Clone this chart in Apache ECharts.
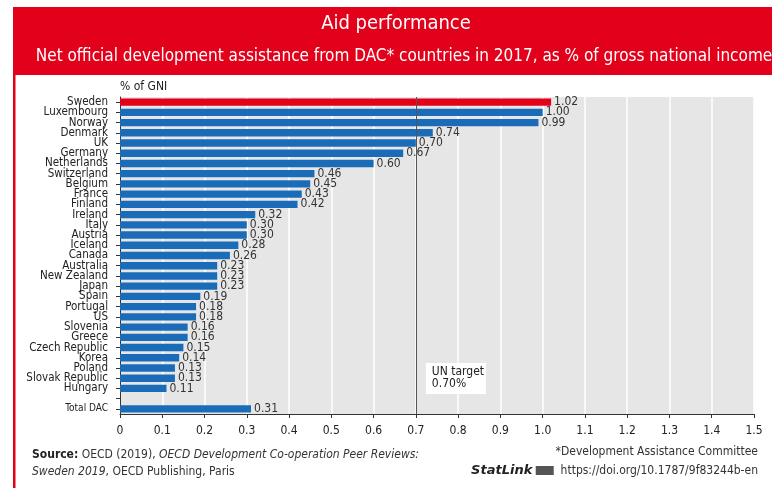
<!DOCTYPE html>
<html>
<head>
<meta charset="utf-8">
<script src="https://cdn.jsdelivr.net/npm/echarts@6/dist/echarts.min.js"></script>
<style>
  html, body { margin: 0; padding: 0; background: #fff; }
  #chart { width: 782px; height: 488px; }
</style>
</head>
<body>
<div id="chart"></div>
<script>
// data
const countries = ['Sweden', 'Luxembourg', 'Norway', 'Denmark', 'UK', 'Germany', 'Netherlands',
  'Switzerland', 'Belgium', 'France', 'Finland', 'Ireland', 'Italy', 'Austria', 'Iceland', 'Canada',
  'Australia', 'New Zealand', 'Japan', 'Spain', 'Portugal', 'US', 'Slovenia', 'Greece',
  'Czech Republic', 'Korea', 'Poland', 'Slovak Republic', 'Hungary', '', 'Total DAC']
const oda = [1.02, 1.00, 0.99, 0.74, 0.70, 0.67, 0.60,
  0.46, 0.45, 0.43, 0.42, 0.32, 0.30, 0.30, 0.28, 0.26,
  0.23, 0.23, 0.23, 0.19, 0.18, 0.18, 0.16, 0.16,
  0.15, 0.14, 0.13, 0.13, 0.11, null, 0.31]
const xTicks = [0, 0.1, 0.2, 0.3, 0.4, 0.5, 0.6, 0.7, 0.8, 0.9, 1.0, 1.1, 1.2, 1.3, 1.4, 1.5]
const unTarget = 0.7

const FONT = '"DejaVu Sans Condensed", "Liberation Sans Narrow", sans-serif'
const RED = '#e2001a'
const BLUE = '#1b6cb8'

const chart = echarts.init(document.getElementById('chart'))

const option = {
  backgroundColor: '#fff',
  animation: false,
  textStyle: { fontFamily: FONT },
  title: [
    {
      text: 'Aid performance',
      left: 391, top: 9, textAlign: 'center',
      textStyle: { color: '#fff', fontSize: 20, fontWeight: 'normal', fontFamily: FONT }
    },
    {
      text: 'Net official development assistance from DAC* countries in 2017, as % of gross national income',
      left: 399, top: 43, textAlign: 'center',
      textStyle: { color: '#fff', fontSize: 17, fontWeight: 'normal', fontFamily: FONT }
    }
  ],
  grid: {
    left: 120, right: 28, top: 97, bottom: 74,
    show: true, backgroundColor: '#e6e6e6', borderWidth: 0
  },
  xAxis: {
    type: 'value',
    min: 0, max: 1.5, interval: 0.1,
    axisLine: { show: true, lineStyle: { color: '#333', width: 1 } },
    axisTick: { show: true, length: 4, lineStyle: { color: '#333' } },
    axisLabel: {
      color: '#222', fontSize: 12, margin: 11,
      formatter: v => {
        const t = xTicks.find(x => Math.abs(x - v) < 1e-6)
        return t === 0 ? '0' : t.toFixed(1)
      }
    },
    splitLine: { show: true, lineStyle: { color: '#fff', width: 1.5 } }
  },
  yAxis: {
    type: 'category',
    inverse: true,
    data: countries,
    name: '% of GNI',
    nameLocation: 'start',
    nameGap: 4,
    nameTextStyle: { color: '#222', fontSize: 12, align: 'left' },
    axisLine: { show: true, lineStyle: { color: '#333' } },
    axisTick: { show: true, length: 4, alignWithLabel: true, lineStyle: { color: '#333' } },
    axisLabel: {
      color: '#222', fontSize: 11.5, margin: 12, interval: 0,
      formatter: v => v === 'Total DAC' ? '{s|' + v + '}' : v,
      rich: { s: { fontSize: 10, color: '#222', fontFamily: FONT } }
    }
  },
  series: [{
    type: 'bar',
    data: oda.map((v, i) => v === null ? null : {
      value: v,
      itemStyle: { color: i === 0 ? RED : BLUE }
    }),
    barWidth: '72%',
    label: {
      show: true, position: 'right', distance: 3,
      color: '#333', fontSize: 12,
      formatter: p => p.value == null ? '' : p.value.toFixed(2)
    },
    markLine: {
      silent: true,
      symbol: 'none',
      label: { show: false },
      lineStyle: { color: '#555', width: 1, type: 'solid' },
      data: [{ xAxis: unTarget }]
    }
  }],
  graphic: [
    { type: 'rect', shape: { x: 13, y: 7, width: 759, height: 68 }, style: { fill: RED }, z: -1 },
    { type: 'rect', shape: { x: 13, y: 75, width: 2.5, height: 413 }, style: { fill: RED }, z: -1 },
    {
      type: 'text', left: 32, top: 446,
      style: {
        text: '{b|Source:} OECD (2019), {i|OECD Development Co-operation Peer Reviews:}\n{i|Sweden 2019}, OECD Publishing, Paris',
        fill: '#333', font: '12px ' + FONT, lineHeight: 17,
        rich: {
          b: { fontWeight: 'bold', fontSize: 12, fontFamily: FONT, fill: '#222' },
          i: { fontStyle: 'italic', fontSize: 12, fontFamily: FONT, fill: '#333' }
        }
      }
    },
    {
      type: 'text', right: 24, top: 446,
      style: { text: '*Development Assistance Committee', fill: '#333', font: '12px ' + FONT }
    },
    {
      type: 'text', right: 24, top: 464,
      style: {
        text: '{s|StatLink} {ic|}  https://doi.org/10.1787/9f83244b-en',
        fill: '#333', font: '12px ' + FONT,
        rich: {
          s: { fontStyle: 'italic', fontWeight: 'bold', fontSize: 13, fontFamily: '"DejaVu Sans", sans-serif', fill: '#222' },
          ic: { width: 18, height: 9, backgroundColor: '#555' }
        }
      }
    }
  ]
}

chart.setOption(option)

// UN target note, placed from the x scale
const px = chart.convertToPixel({ xAxisIndex: 0 }, unTarget)
chart.setOption({
  graphic: option.graphic.concat([
    { type: 'rect', shape: { x: px + 10, y: 363, width: 60, height: 31 }, style: { fill: '#fff' }, z: 10 },
    {
      type: 'text', x: px + 16, y: 366, z: 11,
      style: { text: 'UN target\n' + unTarget.toFixed(2) + '%', fill: '#222', font: '12px ' + FONT, lineHeight: 12 }
    }
  ])
})
</script>
</body>
</html>
